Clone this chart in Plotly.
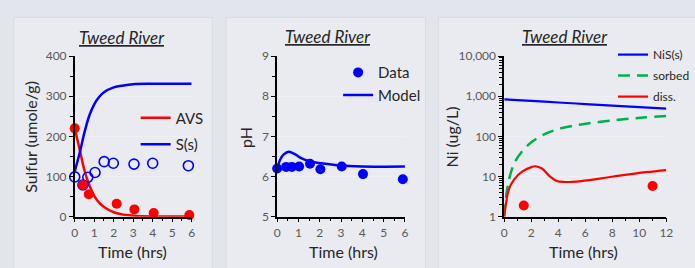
import plotly.graph_objects as go

W, H = 695, 268

# ---------------- Data ----------------
# Panel 1: Sulfur
avs_t = [0, 0.42, 0.72, 2.15, 3.06, 4.05, 5.88]
avs_obs = [220, 79, 56, 32, 18, 9, 4]
ss_t = [0, 0.42, 0.67, 1.04, 1.51, 1.98, 3.04, 4.0, 5.83]
ss_obs = [99, 79, 98, 110, 137, 133, 131, 133, 127]
avs_model_t = [0, 0.25, 0.5, 0.75, 1.0, 1.25, 1.5, 2.0, 2.5, 3.0, 4.0, 6.0]
avs_model = [220, 168, 115, 78, 52, 35, 24, 11, 5, 2.5, 0.6, 0.1]
ss_model_t = [0, 0.25, 0.5, 0.75, 1.0, 1.25, 1.5, 2.0, 2.5, 3.0, 4.0, 6.0]
ss_model = [113, 158, 210, 252, 280, 298, 310, 322, 327, 330, 331, 331]

# Panel 2: pH
ph_t = [0, 0.42, 0.69, 1.03, 1.54, 2.03, 3.03, 4.03, 5.9]
ph_obs = [6.2, 6.24, 6.24, 6.25, 6.32, 6.18, 6.25, 6.06, 5.93]
ph_model_t = [0, 0.15, 0.31, 0.54, 0.85, 1.15, 1.6, 2.08, 2.85, 4, 6]
ph_model = [6.2, 6.43, 6.55, 6.62, 6.55, 6.45, 6.37, 6.33, 6.28, 6.25, 6.25]

# Panel 3: Ni
nis_t = [0, 2, 4, 6, 8, 10, 12]
nis_model = [840, 768, 700, 640, 585, 535, 490]
sorbed_t = [0, 0.12, 0.36, 0.73, 1.33, 2.06, 3.03, 4, 5.7, 8.1, 10.3, 12]
sorbed_model = [1, 2.85, 8.4, 20.8, 42.7, 73.6, 115, 152, 199, 251, 295, 324]
diss_t = [0, 0.12, 0.36, 0.73, 1.33, 2.06, 2.3, 2.79, 3.39, 3.88, 4.48, 5.7, 8.1, 10.5, 12]
diss_model = [1, 2, 4.9, 8.4, 13.2, 17.4, 18, 15.8, 10, 7.7, 7.3, 7.7, 10, 12.8, 14.5]
diss_obs_t = [1.45, 10.98]
diss_obs = [1.9, 5.8]

ni_tickvals = [1, 10, 100, 1000, 10000]
ni_ticktext = ["1", "10", "100", "1,000", "10,000"]

# ---------------- Style ----------------
RED = "#ff0000"
BLUE = "#0000ff"
GREEN = "#00b050"
FONT = "Lato"
TICKC = "#595959"
TXT = "#262626"
BG = "#e3e5ec"
PANEL = "#e9ebf0"

def px(x):
    return x / W

def py(y):
    return 1 - y / H

ydom = [py(221), py(51)]

fig = go.Figure()

# Panel 1
fig.add_trace(go.Scatter(x=avs_model_t, y=avs_model, mode="lines", name="AVS",
                         line=dict(color=RED, width=2.5, shape="spline"),
                         xaxis="x", yaxis="y", legend="legend", legendgroup="a"))
fig.add_trace(go.Scatter(x=ss_model_t, y=ss_model, mode="lines", name="S(s)",
                         line=dict(color=BLUE, width=2.5, shape="spline"),
                         xaxis="x", yaxis="y", legend="legend", legendgroup="b"))
fig.add_trace(go.Scatter(x=ss_t, y=ss_obs, mode="markers", showlegend=False,
                         marker=dict(symbol="circle-open", size=10, color=BLUE, line=dict(width=1.6)),
                         cliponaxis=False, xaxis="x", yaxis="y"))
fig.add_trace(go.Scatter(x=avs_t, y=avs_obs, mode="markers", showlegend=False,
                         marker=dict(symbol="circle", size=10, color=RED),
                         cliponaxis=False, xaxis="x", yaxis="y"))

# Panel 2
fig.add_trace(go.Scatter(x=ph_t, y=ph_obs, mode="markers", name="Data",
                         marker=dict(symbol="circle", size=10, color=BLUE),
                         cliponaxis=False, xaxis="x2", yaxis="y2", legend="legend2", legendgroup="c"))
fig.add_trace(go.Scatter(x=ph_model_t, y=ph_model, mode="lines", name="Model",
                         line=dict(color=BLUE, width=2.5, shape="spline"),
                         xaxis="x2", yaxis="y2", legend="legend2", legendgroup="d"))

# Panel 3
fig.add_trace(go.Scatter(x=nis_t, y=nis_model, mode="lines", name="NiS(s)",
                         line=dict(color=BLUE, width=2.2, shape="spline"),
                         xaxis="x3", yaxis="y3", legend="legend3", legendgroup="e"))
fig.add_trace(go.Scatter(x=sorbed_t, y=sorbed_model, mode="lines", name="sorbed",
                         line=dict(color=GREEN, width=2.5, shape="spline", dash="12px,7px"),
                         xaxis="x3", yaxis="y3", legend="legend3", legendgroup="f"))
fig.add_trace(go.Scatter(x=diss_t, y=diss_model, mode="lines", name="diss.",
                         line=dict(color=RED, width=2.2, shape="spline"),
                         xaxis="x3", yaxis="y3", legend="legend3", legendgroup="g"))
fig.add_trace(go.Scatter(x=diss_obs_t, y=diss_obs, mode="markers", showlegend=False,
                         marker=dict(symbol="circle", size=10, color=RED),
                         cliponaxis=False, xaxis="x3", yaxis="y3"))

axis_common = dict(showline=True, linecolor="black", linewidth=1.5, ticks="outside",
                   tickcolor="black", ticklen=4, tickwidth=1.2,
                   tickfont=dict(family=FONT, size=12, color=TICKC), zeroline=False)

fig.update_layout(
    autosize=True, margin=dict(l=0, r=0, t=0, b=0),
    paper_bgcolor=BG, plot_bgcolor="rgba(0,0,0,0)",
    font=dict(family=FONT, color=TXT),
    xaxis=dict(domain=[px(73), px(192)], range=[0, 6], dtick=1, showgrid=False,
               minor=dict(dtick=0.5, ticks="outside", ticklen=3, tickcolor="black"),
               anchor="y", **axis_common),
    yaxis=dict(domain=ydom, range=[0, 400], dtick=100, showgrid=True, gridcolor="#eef0f4",
               minor=dict(dtick=50, ticks="outside", ticklen=3, tickcolor="black", showgrid=False),
               anchor="x", **axis_common),
    xaxis2=dict(domain=[px(279), px(409)], range=[0, 6], dtick=1, showgrid=False,
                minor=dict(dtick=0.5, ticks="outside", ticklen=3, tickcolor="black"),
                anchor="y2", **axis_common),
    yaxis2=dict(domain=ydom, range=[5, 9], dtick=1, showgrid=True, gridcolor="#eef0f4",
                minor=dict(dtick=0.5, ticks="outside", ticklen=3, tickcolor="black", showgrid=False),
                anchor="x2", **axis_common),
    xaxis3=dict(domain=[px(510), px(675)], range=[0, 12], dtick=2, showgrid=False,
                minor=dict(dtick=1, ticks="outside", ticklen=3, tickcolor="black"),
                anchor="y3", **axis_common),
    yaxis3=dict(domain=ydom, type="log", range=[0, 4], tickvals=ni_tickvals, ticktext=ni_ticktext,
                showgrid=True, gridcolor="#eef0f4",
                minor=dict(dtick="D1", ticks="outside", ticklen=3, tickcolor="black", showgrid=False),
                anchor="x3", **axis_common),
    legend=dict(x=px(135), y=py(99), xanchor="left", yanchor="top", bgcolor="rgba(0,0,0,0)",
                font=dict(family=FONT, size=15, color=TXT), tracegroupgap=4, itemwidth=30),
    legend2=dict(x=px(341), y=py(51), xanchor="left", yanchor="top", bgcolor="rgba(0,0,0,0)",
                 font=dict(family=FONT, size=15, color=TXT), tracegroupgap=0, itemwidth=30),
    legend3=dict(x=px(621), y=py(34), xanchor="left", yanchor="top", bgcolor="rgba(0,0,0,0)",
                 font=dict(family=FONT, size=12, color=TXT), tracegroupgap=2, itemwidth=30),
)

# Panel backgrounds
for x0, x1 in [(11, 213), (227, 430), (443, 705)]:
    fig.add_shape(type="rect", xref="paper", yref="paper", x0=px(x0), x1=px(x1), y0=py(280), y1=py(10),
                  fillcolor=PANEL, line=dict(color="#d9dbe2", width=1), layer="below")

annots = [
    ("<i><u>Tweed River</u></i>", 121, 31, 0, 17),
    ("<i><u>Tweed River</u></i>", 331, 30, 0, 17),
    ("<i><u>Tweed River</u></i>", 572, 30, 0, 17),
    ("Time (hrs)", 132, 258, 0, 16),
    ("Time (hrs)", 346, 258, 0, 16),
    ("Time (hrs)", 591, 258, 0, 16),
    ("Sulfur (umole/g)", 28, 137, -90, 16),
    ("pH", 247, 137, -90, 16),
    ("Ni (ug/L)", 456, 137, -90, 16),
]
for text, x, y, ang, size in annots:
    fig.add_annotation(text=text, x=px(x), y=py(y), xref="paper", yref="paper",
                       xanchor="center", yanchor="middle", showarrow=False, textangle=ang,
                       font=dict(family=FONT, size=size, color=TXT))

fig.write_html("out.html",
               config={"displayModeBar": False},
               default_width="%dpx;position:fixed;left:0;top:0" % W,
               default_height="%dpx" % H,
               post_script="document.body.style.margin='0px';document.body.style.overflow='hidden';"
                           "document.body.style.background='%s';" % BG)
